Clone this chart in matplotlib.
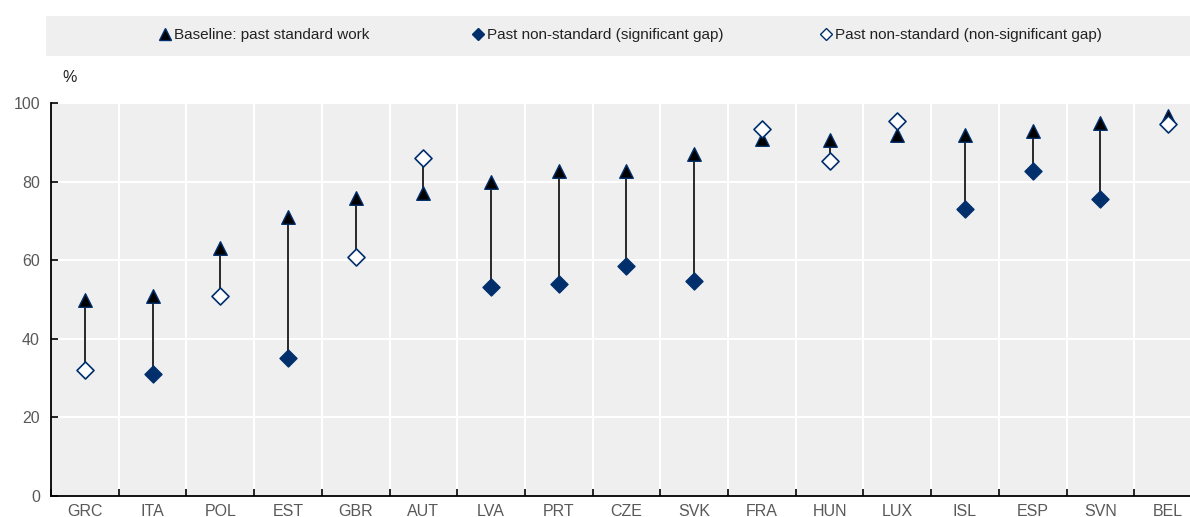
import matplotlib
matplotlib.use("Agg")
import matplotlib.pyplot as plt
import numpy as np
from matplotlib.lines import Line2D
from matplotlib import font_manager

countries = ["GRC", "ITA", "POL", "EST", "GBR", "AUT", "LVA", "PRT", "CZE", "SVK",
             "FRA", "HUN", "LUX", "ISL", "ESP", "SVN", "BEL"]
baseline = [50.0, 51.0, 63.0, 71.0, 75.8, 77.0, 80.0, 82.7, 82.7, 87.0,
            90.8, 90.6, 91.8, 91.8, 92.9, 94.9, 96.7]
nonstandard = [32.0, 31.0, 51.0, 35.2, 60.7, 86.0, 53.3, 54.0, 58.4, 54.6,
               93.4, 85.2, 95.4, 73.0, 82.7, 75.5, 94.6]
significant = [False, True, False, True, False, False, True, True, True, True,
               False, False, False, True, True, True, False]
yticks = [0, 20, 40, 60, 80, 100]

available = {f.name for f in font_manager.fontManager.ttflist}
FONT = [f for f in ["Liberation Sans Narrow", "Liberation Sans", "DejaVu Sans"] if f in available]
plt.rcParams["font.family"] = FONT

NAVY = "#002F6C"
BG = "#EFEFEF"
TXT = "#595959"

W, H = 1190, 517
fig = plt.figure(figsize=(W / 100, H / 100), dpi=100)

left = 51 / W
bottom = (H - 496) / H
top = (H - 103) / H
width = 17 * 67.7 / W
ax = fig.add_axes([left, bottom, width, top - bottom])
ax.set_facecolor(BG)

x = np.arange(len(countries))
ax.set_xlim(-0.5, len(countries) - 0.5)
ax.set_ylim(0, 100)

# connecting lines
for xi, b, n in zip(x, baseline, nonstandard):
    ax.plot([xi, xi], [b, n], color="#1a1a1a", lw=1.3, zorder=2)

ax.scatter(x, baseline, marker="^", s=95, facecolor="black", edgecolor=NAVY, lw=1.0, zorder=3)
sig = np.array(significant)
ns = np.array(nonstandard)
ax.scatter(x[sig], ns[sig], marker="D", s=75, facecolor=NAVY, edgecolor=NAVY, lw=1.0, zorder=4)
ax.scatter(x[~sig], ns[~sig], marker="D", s=75, facecolor="white", edgecolor=NAVY, lw=1.2, zorder=4)

# grid
ax.set_yticks(yticks)
ax.set_yticklabels([str(t) for t in yticks], color=TXT, fontsize=11.5)
ax.set_xticks(x)
ax.set_xticklabels(countries, color=TXT, fontsize=11.5)
ax.set_xticks(np.arange(-0.5, len(countries)), minor=True)
for t in yticks[1:]:
    ax.axhline(t, color="white", lw=1.5, zorder=1)
for b in np.arange(0.5, len(countries) - 0.5):
    ax.axvline(b, color="white", lw=1.5, zorder=1)

ax.tick_params(axis="x", which="major", length=0, pad=5.5)
ax.tick_params(axis="x", which="minor", length=5, direction="in", width=1.2, color="black")
ax.tick_params(axis="y", length=5, direction="in", width=1.2, color="black", pad=8)
for s in ["top", "right"]:
    ax.spines[s].set_visible(False)
for s in ["left", "bottom"]:
    ax.spines[s].set_color("black")
    ax.spines[s].set_linewidth(1.3)

fig.text(70 / W, (H - 78) / H, "%", ha="center", va="center", fontsize=11.5, color="#222222")

# legend band
band = plt.Rectangle((46 / W, (H - 56) / H), 1 - 46 / W, 40 / H, transform=fig.transFigure,
                     facecolor=BG, edgecolor="none", zorder=0)
fig.patches.append(band)
handles = [
    Line2D([], [], marker="^", ls="none", markerfacecolor="black", markeredgecolor=NAVY, markersize=8),
    Line2D([], [], marker="D", ls="none", markerfacecolor=NAVY, markeredgecolor=NAVY, markersize=6),
    Line2D([], [], marker="D", ls="none", markerfacecolor="white", markeredgecolor=NAVY, markersize=6),
]
labels = ["Baseline: past standard work", "Past non-standard (significant gap)",
          "Past non-standard (non-significant gap)"]
centers = [263, 597, 960]
for h, l, cx in zip(handles, labels, centers):
    fig.legend([h], [l], loc="center", bbox_to_anchor=(cx / W, (H - 35) / H), frameon=False,
               fontsize=11, handletextpad=0.1, handlelength=1.0, borderpad=0,
               labelcolor="#222222")

fig.savefig("out.png", dpi=100)
